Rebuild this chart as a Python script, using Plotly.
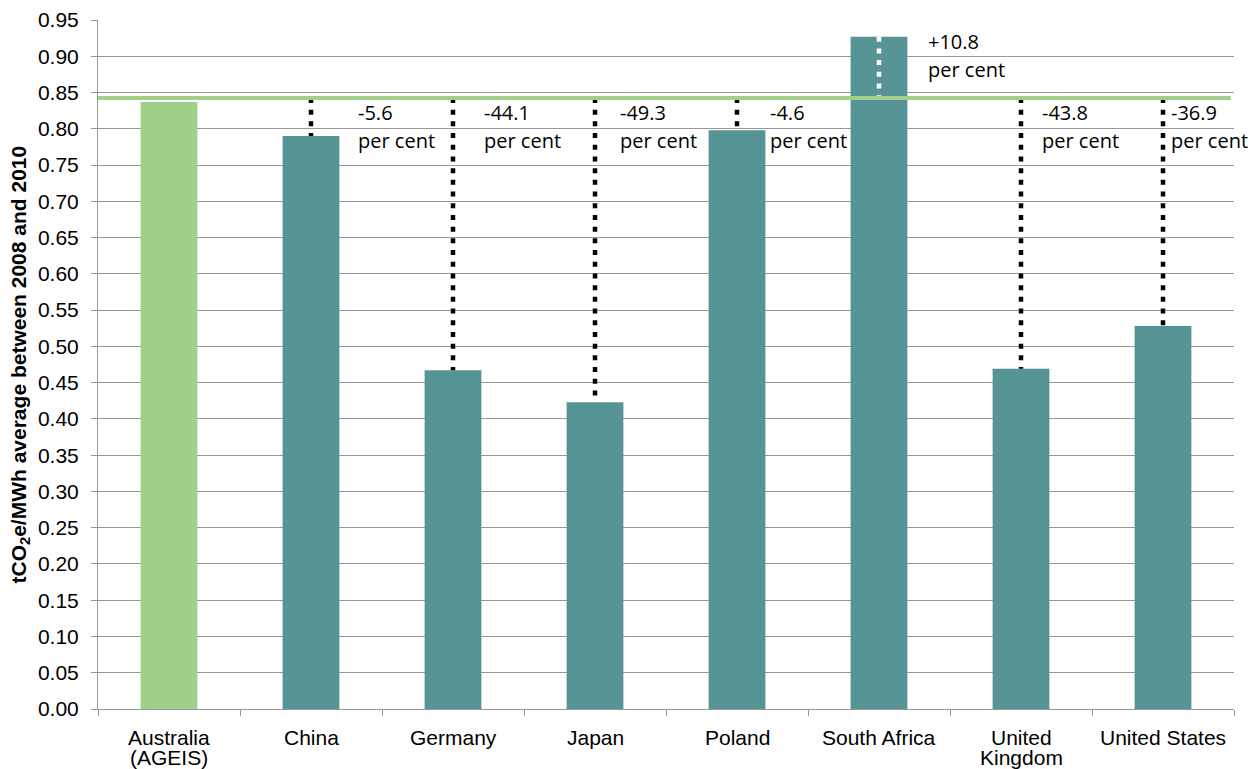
import plotly.graph_objects as go

# Emission intensity of electricity generation, average 2008-2010
countries = ["Australia (AGEIS)", "China", "Germany", "Japan", "Poland",
             "South Africa", "United Kingdom", "United States"]
category_lines = [["Australia", "(AGEIS)"], ["China"], ["Germany"], ["Japan"],
                  ["Poland"], ["South Africa"], ["United", "Kingdom"], ["United States"]]
intensity = [0.837, 0.790, 0.467, 0.423, 0.798, 0.927, 0.469, 0.528]
australia_ref = 0.8425
change_pct = ["", "-5.6", "-44.1", "-49.3", "-4.6", "+10.8", "-43.8", "-36.9"]

GREEN = "#A0D08A"
TEAL = "#579496"
GRID = "#989898"
LABEL_FONT = dict(family="Open Sans", size=20, color="black")
AXIS_FONT = dict(family="Liberation Sans", size=21, color="black")

# horizontal pixel offsets of each change label from its bar centre
label_dx = [0, 45, 29, 23, 31, 47, 19, 6]

bar_colors = [GREEN] + [TEAL] * (len(countries) - 1)

fig = go.Figure()
fig.add_trace(go.Bar(
    x=countries, y=intensity, width=0.4,
    marker=dict(color=bar_colors, line=dict(width=0)),
    showlegend=False, hoverinfo="x+y",
))

annotations = []
for i, (c, v, pct) in enumerate(zip(countries, intensity, change_pct)):
    # category label, one line per annotation for tight line spacing
    for k, line in enumerate(category_lines[i]):
        annotations.append(dict(
            x=c, y=0, xref="x", yref="y", text=line, showarrow=False,
            xanchor="center", yanchor="middle", yshift=-28 - 20 * k,
            font=AXIS_FONT,
        ))
    if i == 0:
        continue
    above = v > australia_ref
    fig.add_trace(go.Scatter(
        x=[c, c], y=[australia_ref, v] if not above else [v, australia_ref],
        mode="lines",
        line=dict(color="white" if above else "black", width=4.5, dash="5px,6.7px"),
        showlegend=False, hoverinfo="skip",
    ))
    shifts = (56, 28) if above else (-15, -43)
    for txt, ys in zip([pct, "per cent"], shifts):
        annotations.append(dict(
            x=c, y=australia_ref, xref="x", yref="y", text=txt,
            showarrow=False, xanchor="left", yanchor="middle",
            xshift=label_dx[i], yshift=ys, font=LABEL_FONT,
        ))

# y-axis title
annotations.append(dict(
    x=0, y=0.5, xref="paper", yref="paper", xanchor="center", yanchor="middle",
    xshift=-79, yshift=0, textangle=-90, showarrow=False,
    text="tCO<sub>2</sub>e/MWh average between 2008 and 2010",
    font=dict(family="Liberation Sans", size=21, color="black", weight="bold"),
))

fig.update_layout(
    width=1252, height=769,
    margin=dict(l=98, r=18, t=20, b=60),
    paper_bgcolor="white", plot_bgcolor="white",
    bargap=0.6,
    font=dict(family="Liberation Sans", size=21, color="black"),
    annotations=annotations,
    shapes=[dict(
        type="line", xref="paper", yref="y", x0=0, x1=0.997,
        y0=australia_ref, y1=australia_ref,
        line=dict(color=GREEN, width=4), layer="above",
    )],
    xaxis=dict(
        type="category", range=[-0.5, 7.5], autorange=False, automargin=False,
        showgrid=False, showline=True, linecolor=GRID, linewidth=1,
        ticks="outside", tickson="boundaries", ticklen=6, tickcolor=GRID,
        showticklabels=False,
    ),
    yaxis=dict(
        range=[0, 0.95], dtick=0.05, tick0=0, tickformat=".2f", automargin=False,
        showgrid=True, gridcolor=GRID, gridwidth=1,
        showline=True, linecolor=GRID, linewidth=1,
        ticks="outside", ticklen=6, tickcolor=GRID,
        ticklabelstandoff=8,
        tickfont=AXIS_FONT,
        zeroline=False, fixedrange=True,
    ),
)

fig.write_html("out.html")
